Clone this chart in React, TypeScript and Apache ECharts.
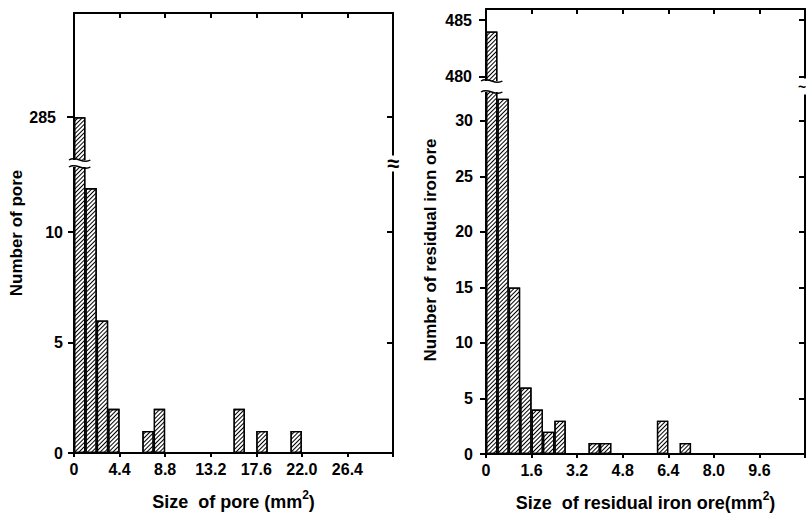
import React, { useEffect, useRef } from 'react';
import * as echarts from 'echarts';

// ---------- data ----------
const leftBinWidth = 1.1;
const leftCounts = [285, 12, 6, 2, 0, 0, 1, 2, 0, 0, 0, 0, 0, 0, 2, 0, 1, 0, 0, 1, 0, 0, 0, 0, 0, 0, 0, 0];
const leftXTicks = [0, 4.4, 8.8, 13.2, 17.6, 22.0, 26.4, 30.8];
const leftXLabels = [0, 4.4, 8.8, 13.2, 17.6, 22.0, 26.4];
const leftYLowerTicks = [0, 5, 10];
const leftYUpperTicks = [285];

const rightBinWidth = 0.4;
const rightCounts = [484, 32, 15, 6, 4, 2, 3, 0, 0, 1, 1, 0, 0, 0, 0, 3, 0, 1, 0, 0, 0, 0, 0, 0, 0, 0, 0, 0];
const rightXTicks = [0, 1.6, 3.2, 4.8, 6.4, 8.0, 9.6, 11.2];
const rightXLabels = [0, 1.6, 3.2, 4.8, 6.4, 8.0, 9.6];
const rightYLowerTicks = [0, 5, 10, 15, 20, 25, 30];
const rightYUpperTicks = [480, 485];

const FONT = 'Liberation Sans';
const INK = '#000';

type Panel = {
  left: number; width: number;
  upperTop: number; upperHeight: number;
  lowerTop: number; lowerHeight: number;
  xMax: number; binWidth: number; counts: number[];
  xTicks: number[]; xLabels: number[];
  lowerMax: number; upperMin: number; upperMax: number;
  lowerTicks: number[]; upperTicks: number[];
  lowerLabelMargin: number; upperLabelMargin: number;
  xTitle: string; yTitle: string; yTitleX: number; yTitleY: number;
  rightBreak: string; rightBreakSize: number; rightBreakDx: number;
};

const panels: Panel[] = [
  {
    left: 74, width: 319, upperTop: 13, upperHeight: 148, lowerTop: 166, lowerHeight: 287,
    xMax: 30.8, binWidth: leftBinWidth, counts: leftCounts, xTicks: leftXTicks, xLabels: leftXLabels,
    lowerMax: 13, upperMin: 283, upperMax: 289.75, lowerTicks: leftYLowerTicks, upperTicks: leftYUpperTicks,
    lowerLabelMargin: 11, upperLabelMargin: 18,
    xTitle: '{a|Size  of pore (mm}{s|2}{a|)}', yTitle: 'Number of pore', yTitleX: 16, yTitleY: 233,
    rightBreak: '≈', rightBreakSize: 22, rightBreakDx: 0,
  },
  {
    left: 486, width: 319, upperTop: 9, upperHeight: 73, lowerTop: 91, lowerHeight: 363,
    xMax: 11.2, binWidth: rightBinWidth, counts: rightCounts, xTicks: rightXTicks, xLabels: rightXLabels,
    lowerMax: 32.7, upperMin: 479.5, upperMax: 486, lowerTicks: rightYLowerTicks, upperTicks: rightYUpperTicks,
    lowerLabelMargin: 13, upperLabelMargin: 14,
    xTitle: '{a|Size  of residual iron ore(mm}{s|2}{a|)}', yTitle: 'Number of residual iron ore', yTitleX: 430, yTitleY: 250,
    rightBreak: '~', rightBreakSize: 14, rightBreakDx: -3,
  },
];

const lineStyle = { color: INK, width: 2 };
const labelStyle = { color: INK, fontFamily: FONT, fontWeight: 'bold' as const, fontSize: 16 };
const fmt = (v: number) => (v === 0 ? '0' : v.toFixed(1));

function buildOption() {
  const grid: any[] = [];
  const xAxis: any[] = [];
  const yAxis: any[] = [];
  const series: any[] = [];
  const graphic: any[] = [];

  panels.forEach((p) => {
    const gU = grid.length;
    grid.push({ left: p.left, top: p.upperTop, width: p.width, height: p.upperHeight, outerBoundsMode: 'none' });
    const gL = grid.length;
    grid.push({ left: p.left, top: p.lowerTop, width: p.width, height: p.lowerHeight, outerBoundsMode: 'none' });

    const xU = xAxis.length;
    xAxis.push({
      type: 'value', gridIndex: gU, position: 'top', min: 0, max: p.xMax,
      axisLine: { show: true, onZero: false, lineStyle },
      axisTick: { show: true, inside: true, length: 5, customValues: p.xTicks, lineStyle },
      axisLabel: { show: false }, splitLine: { show: false },
    });
    const xL = xAxis.length;
    xAxis.push({
      type: 'value', gridIndex: gL, position: 'bottom', min: 0, max: p.xMax,
      axisLine: { show: true, onZero: false, lineStyle },
      axisTick: { show: true, inside: false, length: 4, customValues: p.xTicks, lineStyle },
      axisLabel: { ...labelStyle, customValues: p.xLabels, formatter: fmt, margin: 8 },
      splitLine: { show: false },
      name: p.xTitle, nameLocation: 'middle', nameGap: 36,
      nameTextStyle: {
        rich: {
          a: { fontFamily: FONT, fontWeight: 'bold', fontSize: 18, color: INK, lineHeight: 22, verticalAlign: 'bottom' },
          s: { fontFamily: FONT, fontWeight: 'bold', fontSize: 12, color: INK, lineHeight: 12, verticalAlign: 'top' },
        },
      },
    });

    const yUL = yAxis.length;
    yAxis.push({
      type: 'value', gridIndex: gU, position: 'left', min: p.upperMin, max: p.upperMax,
      axisLine: { show: true, onZero: false, lineStyle },
      axisTick: { show: true, inside: false, length: 7, customValues: p.upperTicks, lineStyle },
      axisLabel: { ...labelStyle, customValues: p.upperTicks, margin: p.upperLabelMargin },
      splitLine: { show: false },
    });
    yAxis.push({
      type: 'value', gridIndex: gU, position: 'right', min: p.upperMin, max: p.upperMax,
      axisLine: { show: true, onZero: false, lineStyle },
      axisTick: { show: true, inside: true, length: 6, customValues: p.upperTicks, lineStyle },
      axisLabel: { show: false }, splitLine: { show: false },
    });
    const yLL = yAxis.length;
    yAxis.push({
      type: 'value', gridIndex: gL, position: 'left', min: 0, max: p.lowerMax,
      axisLine: { show: true, onZero: false, lineStyle },
      axisTick: { show: true, inside: false, length: 6, customValues: p.lowerTicks, lineStyle },
      axisLabel: { ...labelStyle, customValues: p.lowerTicks, margin: p.lowerLabelMargin },
      splitLine: { show: false },
    });
    yAxis.push({
      type: 'value', gridIndex: gL, position: 'right', min: 0, max: p.lowerMax,
      axisLine: { show: true, onZero: false, lineStyle },
      axisTick: { show: true, inside: true, length: 6, customValues: p.lowerTicks, lineStyle },
      axisLabel: { show: false }, splitLine: { show: false },
    });

    const data = p.counts.map((c, i) => [(i + 0.5) * p.binWidth, c]);
    const barStyle = {
      color: '#fff', borderColor: INK, borderWidth: 1.3,
      decal: {
        symbol: 'rect', symbolSize: 1, color: INK, backgroundColor: '#fff',
        dashArrayX: [1, 0], dashArrayY: [0.9, 1.7], rotation: -Math.PI / 4,
      },
    };
    [[xU, yUL], [xL, yLL]].forEach(([xi, yi]) => {
      series.push({
        type: 'bar', xAxisIndex: xi, yAxisIndex: yi, data, barCategoryGap: '0%', barGap: '0%',
        clip: true, silent: true, itemStyle: barStyle,
      });
    });

    // break marks
    const upperBottom = p.upperTop + p.upperHeight;
    const gapMid = (upperBottom + p.lowerTop) / 2;
    const binPx = p.width / p.counts.length;
    const bx0 = p.left - 5;
    const bx1 = p.left + binPx + 5;
    graphic.push({
      type: 'rect', z: 100, shape: { x: bx0, y: upperBottom - 1, width: bx1 - bx0, height: p.lowerTop - upperBottom + 2 },
      style: { fill: '#fff' },
    });
    [upperBottom - 1, p.lowerTop + 1].forEach((yy) => {
      graphic.push({
        type: 'bezierCurve', z: 101,
        shape: { x1: bx0, y1: yy, x2: bx1, y2: yy, cpx1: bx0 + (bx1 - bx0) * 0.35, cpy1: yy - 5, cpx2: bx0 + (bx1 - bx0) * 0.65, cpy2: yy + 5 },
        style: { stroke: INK, lineWidth: 1.5, fill: null },
      });
    });
    const rx = p.left + p.width;
    graphic.push({
      type: 'rect', z: 100, shape: { x: rx - 3, y: gapMid - 8, width: 6, height: 16 }, style: { fill: '#fff' },
    });
    graphic.push({
      type: 'text', z: 101, x: rx + p.rightBreakDx, y: gapMid,
      style: { text: p.rightBreak, fill: INK, font: `bold ${p.rightBreakSize}px "${FONT}"`, align: 'center', verticalAlign: 'middle' },
    });

    // y title
    graphic.push({
      type: 'text', x: p.yTitleX, y: p.yTitleY, rotation: Math.PI / 2,
      style: { text: p.yTitle, fill: INK, font: `bold 17px "${FONT}"`, align: 'center', verticalAlign: 'middle' },
    });
  });

  return { animation: false, backgroundColor: '#fff', grid, xAxis, yAxis, series, graphic };
}

export default function App() {
  const ref = useRef<HTMLDivElement>(null);
  useEffect(() => {
    if (!ref.current) return;
    const chart = echarts.init(ref.current, undefined, { renderer: 'svg' });
    chart.setOption(buildOption() as any);
    return () => chart.dispose();
  }, []);
  return <div ref={ref} style={{ position: 'fixed', left: 0, top: 0, width: 807, height: 515 }} />;
}
